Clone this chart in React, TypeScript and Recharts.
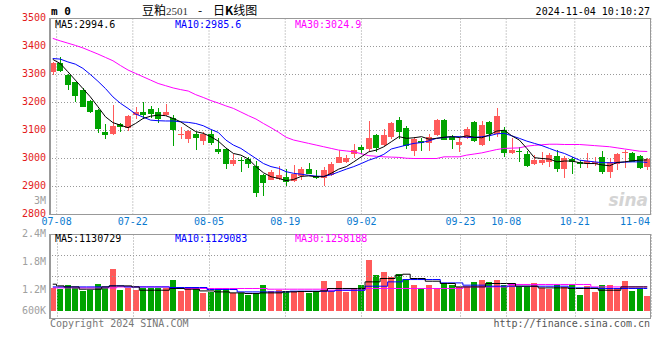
import { Bar, CartesianGrid, ComposedChart, Line, XAxis, YAxis } from 'recharts';

const dates = [
  '07-05', '07-08', '07-09', '07-10', '07-11', '07-12', '07-15', '07-16', '07-17', '07-18',
  '07-19', '07-22', '07-23', '07-24', '07-25', '07-26', '07-29', '07-30', '07-31', '08-01',
  '08-02', '08-05', '08-06', '08-07', '08-08', '08-09', '08-12', '08-13', '08-14', '08-15',
  '08-16', '08-19', '08-20', '08-21', '08-22', '08-23', '08-26', '08-27', '08-28', '08-29',
  '08-30', '09-02', '09-03', '09-04', '09-05', '09-06', '09-09', '09-10', '09-11', '09-12',
  '09-13', '09-18', '09-19', '09-20', '09-23', '09-24', '09-25', '09-26', '09-27', '09-30',
  '10-08', '10-09', '10-10', '10-11', '10-14', '10-15', '10-16', '10-17', '10-18', '10-21',
  '10-22', '10-23', '10-24', '10-25', '10-28', '10-29', '10-30', '10-31', '11-01', '11-04',
];

const opens = [
  3308, 3340, 3300, 3272, 3244, 3206, 3173, 3095, 3086, 3123,
  3108, 3156, 3166, 3176, 3166, 3156, 3144, 3084, 3068, 3087,
  3062, 3087, 3034, 3034, 2980, 2994, 3000, 2973, 2941, 2923,
  2927, 2934, 2918, 2937, 2962, 2936, 2929, 2942, 2985, 2987,
  3015, 3041, 3035, 3084, 3048, 3077, 3136, 3108, 3027, 3063,
  3057, 3084, 3136, 3076, 3048, 3072, 3129, 3048, 3129, 3086,
  3101, 3021, 3027, 3015, 2982, 2985, 2988, 3009, 2961, 2998,
  2986, 2979, 2981, 3007, 2953, 2982, 3018, 3020, 3009, 2971,
];
const highs = [
  3345, 3361, 3303, 3274, 3250, 3208, 3178, 3124, 3190, 3126,
  3155, 3183, 3200, 3188, 3182, 3195, 3157, 3111, 3101, 3095,
  3095, 3102, 3073, 3038, 3016, 3007, 3006, 2992, 2943, 2959,
  2975, 2962, 2976, 2968, 2985, 2958, 2970, 2987, 3032, 3013,
  3052, 3049, 3134, 3086, 3104, 3131, 3149, 3116, 3075, 3072,
  3089, 3141, 3140, 3084, 3074, 3112, 3134, 3134, 3134, 3180,
  3111, 3074, 3042, 3026, 3012, 3024, 3020, 3030, 3009, 3006,
  2994, 3018, 3006, 3026, 3003, 3020, 3030, 3024, 3012, 3003,
];
const lows = [
  3298, 3309, 3246, 3200, 3184, 3162, 3092, 3070, 3083, 3093,
  3099, 3140, 3142, 3145, 3128, 3152, 3045, 3068, 3056, 3030,
  3048, 3049, 3016, 2962, 2974, 2953, 2965, 2863, 2867, 2922,
  2923, 2902, 2916, 2923, 2943, 2928, 2902, 2937, 2984, 2985,
  3002, 3015, 3028, 3024, 3046, 3070, 3070, 3035, 3008, 3028,
  3028, 3081, 3066, 3034, 3024, 3070, 3060, 3046, 3063, 3078,
  3006, 3015, 2986, 2969, 2977, 2977, 2971, 2953, 2931, 2946,
  2965, 2967, 2974, 2946, 2931, 2959, 2967, 2987, 2962, 2959,
];
const closes = [
  3341, 3314, 3261, 3224, 3185, 3166, 3106, 3085, 3116, 3114,
  3152, 3165, 3156, 3159, 3140, 3165, 3101, 3088, 3098, 3074,
  3088, 3056, 3024, 2980, 2994, 2992, 2980, 2878, 2913, 2952,
  2941, 2917, 2943, 2962, 2944, 2932, 2958, 2980, 3005, 3000,
  3030, 3031, 3073, 3037, 3084, 3128, 3095, 3046, 3068, 3054,
  3076, 3139, 3067, 3066, 3059, 3105, 3063, 3119, 3088, 3151,
  3021, 3030, 3025, 2974, 2994, 2994, 3012, 2962, 3000, 2986,
  2980, 2991, 2988, 2950, 2988, 3015, 3022, 2988, 2965, 2997,
];

const ma5 = [
  3354, 3339, 3310, 3280, 3250, 3220, 3185, 3149, 3128, 3119,
  3110, 3125, 3143, 3151, 3155, 3153, 3143, 3131, 3113, 3096,
  3090, 3078, 3062, 3038, 3018, 3012, 2998, 2971, 2949, 2935,
  2929, 2921, 2925, 2936, 2938, 2935, 2935, 2947, 2962, 2971,
  2988, 3006, 3024, 3030, 3042, 3060, 3078, 3072, 3074, 3078,
  3069, 3072, 3076, 3078, 3075, 3081, 3076, 3074, 3084, 3098,
  3101, 3081, 3066, 3036, 3003, 3000, 2998, 2988, 2991, 2991,
  2985, 2982, 2982, 2977, 2974, 2986, 2988, 2992, 2994, 2995,
];
const ma10 = [
  3357, 3355, 3345, 3337, 3322, 3300, 3276, 3250, 3220, 3197,
  3179, 3159, 3148, 3137, 3135, 3134, 3134, 3131, 3129, 3125,
  3117, 3104, 3093, 3066, 3048, 3036, 3018, 3000, 2982, 2971,
  2965, 2953, 2947, 2944, 2940, 2937, 2936, 2942, 2952, 2962,
  2971, 2982, 2994, 3003, 3015, 3034, 3041, 3048, 3054, 3057,
  3063, 3072, 3075, 3078, 3078, 3076, 3075, 3078, 3081, 3088,
  3090, 3081, 3072, 3062, 3054, 3046, 3036, 3026, 3018, 3006,
  2994, 2991, 2988, 2985, 2985, 2985, 2987, 2988, 2988, 2986,
];
const ma30 = [
  3429, 3420, 3412, 3404, 3395, 3384, 3373, 3361, 3349, 3332,
  3316, 3304, 3292, 3280, 3268, 3260, 3252, 3246, 3241, 3228,
  3218, 3207, 3198, 3188, 3179, 3166, 3153, 3141, 3125, 3110,
  3094, 3076, 3066, 3060, 3054, 3048, 3042, 3036, 3030, 3027,
  3024, 3017, 3010, 3008, 3006, 3005, 3004, 3001, 3000, 3000,
  3000, 3000, 3006, 3006, 3006, 3012, 3016, 3020, 3026, 3032,
  3036, 3037, 3038, 3044, 3047, 3049, 3051, 3051, 3050, 3050,
  3050, 3048, 3046, 3044, 3042, 3038, 3034, 3030, 3026, 3025,
];

const volumes = [
  1264000, 1228000, 1314000, 1264000, 1191000, 1206000, 1335000, 1264000, 1656000, 1206000,
  1264000, 1206000, 1264000, 1264000, 1243000, 1264000, 1421000, 1191000, 1264000, 1243000,
  1149000, 1170000, 1221000, 1243000, 1149000, 1149000, 1099000, 1121000, 1314000, 1191000,
  1221000, 1191000, 1191000, 1191000, 1149000, 1191000, 1399000, 1191000, 1399000, 1170000,
  1228000, 1314000, 1849000, 1528000, 1592000, 1491000, 1564000, 1421000, 1314000, 1264000,
  1314000, 1264000, 1335000, 1314000, 1277000, 1277000, 1378000, 1421000, 1378000, 1421000,
  1314000, 1350000, 1277000, 1277000, 1363000, 1256000, 1228000, 1314000, 1277000, 1314000,
  1099000, 1292000, 1170000, 1314000, 1314000, 1243000, 1399000, 1191000, 1243000, 1084000,
];
const volMa5 = [
  1335000, 1299000, 1277000, 1277000, 1228000, 1228000, 1228000, 1277000, 1299000, 1299000,
  1299000, 1277000, 1206000, 1206000, 1206000, 1206000, 1243000, 1243000, 1228000, 1228000,
  1191000, 1191000, 1170000, 1170000, 1149000, 1149000, 1136000, 1136000, 1149000, 1149000,
  1149000, 1170000, 1170000, 1179000, 1179000, 1179000, 1191000, 1243000, 1243000, 1243000,
  1243000, 1243000, 1385000, 1385000, 1457000, 1457000, 1528000, 1549000, 1457000, 1457000,
  1399000, 1399000, 1350000, 1350000, 1277000, 1277000, 1277000, 1277000, 1350000, 1350000,
  1350000, 1350000, 1292000, 1292000, 1292000, 1256000, 1256000, 1256000, 1256000, 1243000,
  1243000, 1243000, 1243000, 1206000, 1206000, 1206000, 1277000, 1277000, 1277000, 1277000,
];
const volMa10 = [
  1277000, 1277000, 1277000, 1277000, 1277000, 1277000, 1277000, 1277000, 1299000, 1299000,
  1277000, 1277000, 1277000, 1277000, 1277000, 1277000, 1264000, 1264000, 1264000, 1264000,
  1264000, 1221000, 1221000, 1221000, 1221000, 1170000, 1170000, 1170000, 1170000, 1170000,
  1170000, 1170000, 1185000, 1185000, 1185000, 1185000, 1185000, 1185000, 1206000, 1206000,
  1206000, 1206000, 1292000, 1292000, 1292000, 1385000, 1385000, 1435000, 1435000, 1435000,
  1435000, 1435000, 1363000, 1363000, 1363000, 1314000, 1314000, 1314000, 1292000, 1292000,
  1292000, 1292000, 1292000, 1292000, 1292000, 1292000, 1292000, 1292000, 1292000, 1256000,
  1256000, 1256000, 1256000, 1243000, 1243000, 1243000, 1243000, 1243000, 1243000, 1243000,
];
const volMa30 = [
  1256000, 1256000, 1256000, 1256000, 1256000, 1256000, 1256000, 1256000, 1256000, 1277000,
  1277000, 1277000, 1277000, 1277000, 1277000, 1277000, 1243000, 1243000, 1243000, 1243000,
  1243000, 1243000, 1243000, 1243000, 1243000, 1243000, 1243000, 1243000, 1243000, 1228000,
  1228000, 1228000, 1228000, 1228000, 1228000, 1228000, 1228000, 1206000, 1206000, 1206000,
  1206000, 1206000, 1243000, 1243000, 1243000, 1243000, 1243000, 1243000, 1243000, 1243000,
  1243000, 1243000, 1243000, 1243000, 1243000, 1277000, 1277000, 1277000, 1277000, 1277000,
  1277000, 1329000, 1329000, 1329000, 1329000, 1329000, 1329000, 1329000, 1329000, 1329000,
  1329000, 1329000, 1277000, 1277000, 1277000, 1277000, 1277000, 1277000, 1277000, 1277000,
];

const priceTicks = [2800, 2900, 3000, 3100, 3200, 3300, 3400, 3500];
const volTicks = [600000, 1200000, 1800000, 2400000, 3000000];
const volGridValues = [1500000, 1950000];
const labelDates = ['07-08', '07-22', '08-05', '08-19', '09-02', '09-23', '10-08', '10-21', '11-04'];
const PRICE_MIN = 2800;
const PRICE_MAX = 3500;
const VOL_MIN = 600000;
const VOL_MAX = 2400000;
const VOL_BASE = 760000;

const UP = '#ff5a5a';
const DOWN = '#00a300';
const GRID = '#999999';
const FRAME = '#999999';
const MONO = '"DejaVu Sans Mono", "Liberation Mono", monospace';
const CJK = '"Noto Sans CJK SC", sans-serif';

// page geometry: one chart, price panel on top, volume panel below
const W = 660;
const H = 340;
const PLOT_LEFT = 49;
const PLOT_RIGHT = 651;
const MAIN_TOP = 18.5;
const MAIN_BOTTOM = 214.5;
const VOL_TOP = 234.5;
const VOL_BOTTOM = 318.5;
const DATE_BASELINE = 225;

// stretch each axis so its panel lands in its own band of the shared plot area
const pricePerPx = (PRICE_MAX - PRICE_MIN) / (MAIN_BOTTOM - MAIN_TOP);
const priceDomain = [PRICE_MIN - (VOL_BOTTOM - MAIN_BOTTOM) * pricePerPx, PRICE_MAX];
const volPerPx = (VOL_MAX - VOL_MIN) / (VOL_BOTTOM - VOL_TOP);
const volDomain = [VOL_MIN, VOL_MAX + (VOL_TOP - MAIN_TOP) * volPerPx];

const labelIdx = labelDates.map((d) => dates.indexOf(d));

const data = dates.map((date, i) => ({
  date,
  idx: i,
  open: opens[i],
  high: highs[i],
  low: lows[i],
  close: closes[i],
  range: [lows[i], highs[i]],
  ma5: ma5[i],
  ma10: ma10[i],
  ma30: ma30[i],
  vol: [VOL_BASE, volumes[i]],
  volMa5: volMa5[i],
  volMa10: volMa10[i],
  volMa30: volMa30[i],
}));

function Candle(props: any) {
  const { x, y, width, height, payload } = props;
  if (x == null || y == null) return null;
  const { open, close, high, low } = payload;
  const top = Math.min(y, y + height);
  const h = Math.abs(height);
  const k = high > low ? h / (high - low) : 0;
  const color = close >= open ? UP : DOWN;
  const cx = Math.round(x + width / 2);
  const b1 = Math.round(top + (high - Math.max(open, close)) * k);
  const b2 = Math.round(top + (high - Math.min(open, close)) * k);
  return (
    <g>
      <line x1={cx + 0.5} x2={cx + 0.5} y1={Math.round(top)} y2={Math.round(top + h)} stroke={color} />
      <rect x={cx - 3} y={b1} width={6} height={Math.max(1, b2 - b1)} fill={color} />
    </g>
  );
}

function VolBar(props: any) {
  const { x, y, width, height, payload } = props;
  if (x == null || y == null) return null;
  const top = Math.round(Math.min(y, y + height));
  const bottom = Math.round(Math.max(y, y + height));
  const cx = Math.round(x + width / 2);
  return <rect x={cx - 3} y={top} width={6} height={bottom - top} fill={payload.close >= payload.open ? UP : DOWN} />;
}

function PriceTick({ x, y, payload }: any) {
  if (payload.value < PRICE_MIN) return null;
  return (
    <text x={x} y={y - 1.5} dy="0.355em" textAnchor="end" fill="#e31b1b" fontSize={10} fontFamily={MONO}>
      {payload.value}
    </text>
  );
}

function volLabel(v: number) {
  return v >= 1000000 ? `${v / 1000000}M` : `${v / 1000}K`;
}

// volume axis sits on the right and is 1px wide; its labels are drawn on the left like Sina
function VolTick({ y, payload }: any) {
  const shift = payload.value === 600000 ? -8 : payload.value === 3000000 ? -6 : -1.5;
  return (
    <text x={PLOT_LEFT - 3} y={y + shift} dy="0.355em" textAnchor="end" fill="#a0a0a0" fontSize={10} fontFamily={MONO}>
      {volLabel(payload.value)}
    </text>
  );
}

// date labels go in the gap between the two panels
function DateTick({ x, payload }: any) {
  const last = payload.value === dates.length - 1;
  return (
    <text x={last ? x - 1 : x} y={DATE_BASELINE} textAnchor={last ? 'end' : 'middle'} fill="#0a7ad0" fontSize={10} fontFamily={MONO}>
      {dates[payload.value]}
    </text>
  );
}

function KChart() {
  return (
    <ComposedChart
      width={W}
      height={H}
      data={data}
      margin={{ top: MAIN_TOP, right: W - PLOT_RIGHT - 1, bottom: H - VOL_BOTTOM - 1, left: 0 }}
    >
      <CartesianGrid
        xAxisId="idx"
        yAxisId="price"
        x={PLOT_LEFT}
        width={PLOT_RIGHT - PLOT_LEFT}
        y={MAIN_TOP}
        height={MAIN_BOTTOM - MAIN_TOP}
        stroke={GRID}
        strokeDasharray="1 2"
        horizontalValues={priceTicks}
        verticalValues={labelIdx}
      />
      <XAxis xAxisId="band" dataKey="date" hide />
      <XAxis xAxisId="vband" dataKey="date" hide />
      <XAxis
        xAxisId="idx"
        dataKey="idx"
        type="number"
        domain={[0, dates.length - 1]}
        ticks={labelIdx}
        interval={0}
        tick={<DateTick />}
        axisLine={false}
        tickLine={false}
        height={1}
      />
      <YAxis
        yAxisId="price"
        domain={priceDomain}
        ticks={priceTicks}
        interval={0}
        allowDataOverflow
        tick={<PriceTick />}
        axisLine={false}
        tickLine={false}
        tickSize={0}
        tickMargin={3}
        width={PLOT_LEFT}
      />
      <YAxis
        yAxisId="vol"
        orientation="right"
        domain={volDomain}
        ticks={volTicks}
        interval={0}
        allowDataOverflow
        tick={<VolTick />}
        axisLine={false}
        tickLine={false}
        width={1}
      />
      <Bar xAxisId="band" yAxisId="price" dataKey="range" shape={(p: any) => <Candle {...p} />} isAnimationActive={false} />
      <Line xAxisId="band" yAxisId="price" dataKey="ma30" stroke="#ff00ff" strokeWidth={1} dot={false} isAnimationActive={false} />
      <Line xAxisId="band" yAxisId="price" dataKey="ma10" stroke="#0000ff" strokeWidth={1} dot={false} isAnimationActive={false} />
      <Line xAxisId="band" yAxisId="price" dataKey="ma5" stroke="#000000" strokeWidth={1} dot={false} isAnimationActive={false} />

      <Bar xAxisId="vband" yAxisId="vol" dataKey="vol" shape={(p: any) => <VolBar {...p} />} isAnimationActive={false} />
      <Line xAxisId="band" yAxisId="vol" type="step" dataKey="volMa30" stroke="#ff00ff" strokeWidth={1} dot={false} isAnimationActive={false} />
      <Line xAxisId="band" yAxisId="vol" type="step" dataKey="volMa10" stroke="#0000ff" strokeWidth={1} dot={false} isAnimationActive={false} />
      <Line xAxisId="band" yAxisId="vol" type="step" dataKey="volMa5" stroke="#000000" strokeWidth={1} dot={false} isAnimationActive={false} />
    </ComposedChart>
  );
}

// dotted guides of the volume panel, placed with the same linear layout the axes use
function VolumeGuides() {
  const gx = (i: number) => Math.round(PLOT_LEFT + (i * (PLOT_RIGHT - PLOT_LEFT)) / (dates.length - 1)) + 0.5;
  const gy = (v: number) => VOL_BOTTOM - (v - VOL_MIN) / volPerPx;
  return (
    <g>
      {volGridValues.map((v) => (
        <path key={`h${v}`} d={`M${PLOT_LEFT},${gy(v)}H${PLOT_RIGHT}`} stroke={GRID} strokeWidth={1} strokeDasharray="1 2" fill="none" />
      ))}
      {labelIdx.map((i) => (
        <path key={`v${i}`} d={`M${gx(i)},${VOL_TOP}V${VOL_BOTTOM}`} stroke={GRID} strokeWidth={1} strokeDasharray="1 2" fill="none" />
      ))}
    </g>
  );
}

function Overlay() {
  const t = { fontFamily: MONO, fontSize: 10 };
  return (
    <svg width={W} height={360} style={{ position: 'absolute', left: 0, top: 0, pointerEvents: 'none' }}>
      <VolumeGuides />
      <rect x={PLOT_LEFT + 0.5} y={MAIN_TOP} width={PLOT_RIGHT - PLOT_LEFT - 1} height={MAIN_BOTTOM - MAIN_TOP} fill="none" stroke={FRAME} />
      <rect x={PLOT_LEFT + 0.5} y={VOL_TOP} width={PLOT_RIGHT - PLOT_LEFT - 1} height={VOL_BOTTOM - VOL_TOP} fill="none" stroke={FRAME} />
      <line x1={PLOT_LEFT + 1.5} x2={PLOT_LEFT + 1.5} y1={MAIN_TOP} y2={MAIN_BOTTOM} stroke={FRAME} />
      <line x1={PLOT_LEFT + 1.5} x2={PLOT_LEFT + 1.5} y1={VOL_TOP} y2={VOL_BOTTOM} stroke={FRAME} />

      <text x={51} y={15} fontFamily={MONO} fontSize={11} fontWeight="bold" fill="#000">m 0</text>
      <text x={142} y={14.5} fontFamily={CJK} fontSize={12} fill="#000">
        豆粕<tspan fontFamily='"Liberation Serif", serif' fontSize={11} fill="#333">2501</tspan>
      </text>
      <text x={200} y={14.5} textAnchor="middle" fontFamily={CJK} fontSize={12} fill="#000">-</text>
      <text x={213} y={14.5} fontFamily={CJK} fontSize={12} fill="#000">
        日<tspan fontWeight="bold">K</tspan>线图
      </text>
      <text x={650} y={15} textAnchor="end" {...t} fill="#000">2024-11-04 10:10:27</text>

      <text x={55} y={27.5} {...t} fill="#000">MA5:2994.6</text>
      <text x={175} y={27.5} {...t} fill="#0000ff">MA10:2985.6</text>
      <text x={295} y={27.5} {...t} fill="#ff00ff">MA30:3024.9</text>

      <text x={55} y={242} {...t} fill="#000">MA5:1130729</text>
      <text x={175} y={242} {...t} fill="#0000ff">MA10:1129083</text>
      <text x={295} y={242} {...t} fill="#ff00ff">MA30:1258188</text>

      <text x={648} y={206} textAnchor="end" fontFamily="'DejaVu Sans', sans-serif" fontSize={17} fontStyle="italic" fontWeight="bold" fill="#d4d4d4">sina</text>

      <text x={50} y={327} {...t} fill="#777">Copyright 2024 SINA.COM</text>
      <text x={650} y={327} textAnchor="end" {...t} fill="#555">http://finance.sina.com.cn</text>
    </svg>
  );
}

export default function App() {
  return (
    <div style={{ position: 'fixed', left: 0, top: 0, width: W, height: 360, background: '#fff', overflow: 'hidden' }}>
      <div style={{ position: 'absolute', left: 0, top: 0 }}>
        <KChart />
      </div>
      <Overlay />
    </div>
  );
}
